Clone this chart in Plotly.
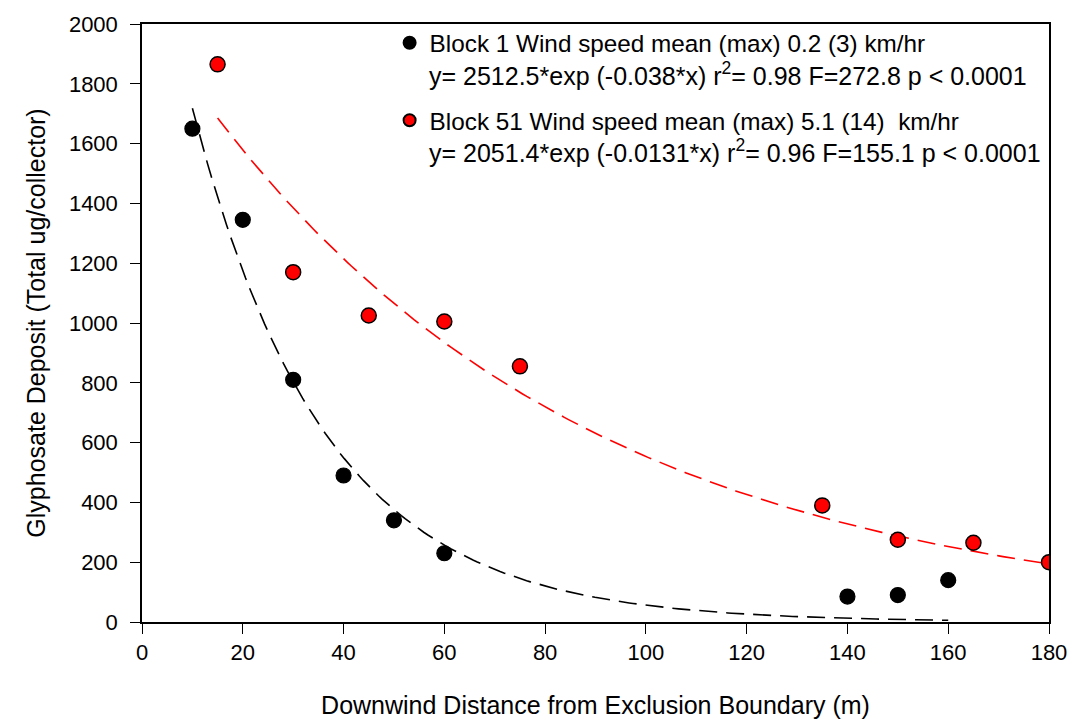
import numpy as np
import plotly.graph_objects as go

# Block 1 (low wind) observed deposits
block1_x = [10, 20, 30, 40, 50, 60, 140, 150, 160]
block1_y = [1650, 1345, 810, 490, 340, 230, 85, 90, 140]

# Block 51 (higher wind) observed deposits
block51_x = [15, 30, 45, 60, 75, 135, 150, 165, 180]
block51_y = [1865, 1170, 1025, 1005, 855, 390, 275, 265, 200]

# fitted exponential models as printed on the chart: y = a*exp(b*x)
block1_fit = (2512.5, -0.038)
block51_fit = (2051.4, -0.0131)

block1_name = "Block 1 Wind speed mean (max) 0.2 (3) km/hr"
block51_name = "Block 51 Wind speed mean (max) 5.1 (14)  km/hr"
block1_eq = "y= 2512.5*exp (-0.038*x) r<sup>2</sup>= 0.98 F=272.8 p < 0.0001"
block51_eq = "y= 2051.4*exp (-0.0131*x) r<sup>2</sup>= 0.96 F=155.1 p < 0.0001"

x_ticks = list(range(0, 181, 20))
y_ticks = list(range(0, 2001, 200))

fx1 = np.linspace(min(block1_x), max(block1_x), 200)
fy1 = block1_fit[0] * np.exp(block1_fit[1] * fx1)
fx51 = np.linspace(min(block51_x), max(block51_x), 200)
fy51 = block51_fit[0] * np.exp(block51_fit[1] * fx51)

FONT = 'Liberation Sans, Arial, sans-serif'

fig = go.Figure()

fig.add_trace(go.Scatter(x=fx1, y=fy1, mode='lines', showlegend=False,
                         line=dict(color='black', width=1.6, dash='18px,9px')))
fig.add_trace(go.Scatter(x=fx51, y=fy51, mode='lines', showlegend=False,
                         line=dict(color='#ff0000', width=1.6, dash='18px,9px')))

fig.add_trace(go.Scatter(x=block1_x, y=block1_y, mode='markers', name=block1_name,
                         legendgroup='b1',
                         marker=dict(color='black', size=15, line=dict(color='black', width=1.2))))
fig.add_trace(go.Scatter(x=block51_x, y=block51_y, mode='markers', name=block51_name,
                         legendgroup='b51',
                         marker=dict(color='#ff0000', size=15, line=dict(color='black', width=1.5))))

# fit equations sit under each legend entry
for txt, yy in [(block1_eq, 0.917), (block51_eq, 0.787)]:
    fig.add_annotation(text=txt, xref='paper', yref='paper', x=0.314, y=yy,
                       xanchor='left', yanchor='middle', showarrow=False,
                       font=dict(family=FONT, size=25, color='black'))

# page body adds an 8px margin, so the figure is a bit smaller than the window
fig.update_layout(
    width=1060, height=711,
    margin=dict(l=134, r=19, t=12, b=97),
    plot_bgcolor='white', paper_bgcolor='white',
    font=dict(family=FONT, size=22, color='black'),
    legend=dict(x=0.273, y=1.006, xanchor='left', yanchor='top',
                bgcolor='rgba(0,0,0,0)', tracegroupgap=43, itemsizing='constant',
                font=dict(family=FONT, size=24.3, color='black')),
    xaxis=dict(range=[0, 180], tickvals=x_ticks, ticks='outside', ticklen=10,
               tickcolor='black', tickwidth=1.2, showline=True, linecolor='black',
               linewidth=1.5, mirror=True, showgrid=False, zeroline=False,
               automargin=False, ticklabeloverflow='allow', ticklabelstandoff=0,
               tickfont=dict(size=22),
               title=dict(text='Downwind Distance from Exclusion Boundary (m)', standoff=40,
                          font=dict(family=FONT, size=25))),
    yaxis=dict(range=[0, 2000], tickvals=y_ticks, ticks='outside', ticklen=10,
               tickcolor='black', tickwidth=1.2, showline=True, linecolor='black',
               linewidth=1.5, mirror=True, showgrid=False, zeroline=False,
               automargin=False, ticklabeloverflow='allow', ticklabelstandoff=8,
               tickfont=dict(size=22),
               title=dict(text='Glyphosate Deposit (Total ug/collector)', standoff=16,
                          font=dict(family=FONT, size=25))),
)

fig.write_html("out.html")
